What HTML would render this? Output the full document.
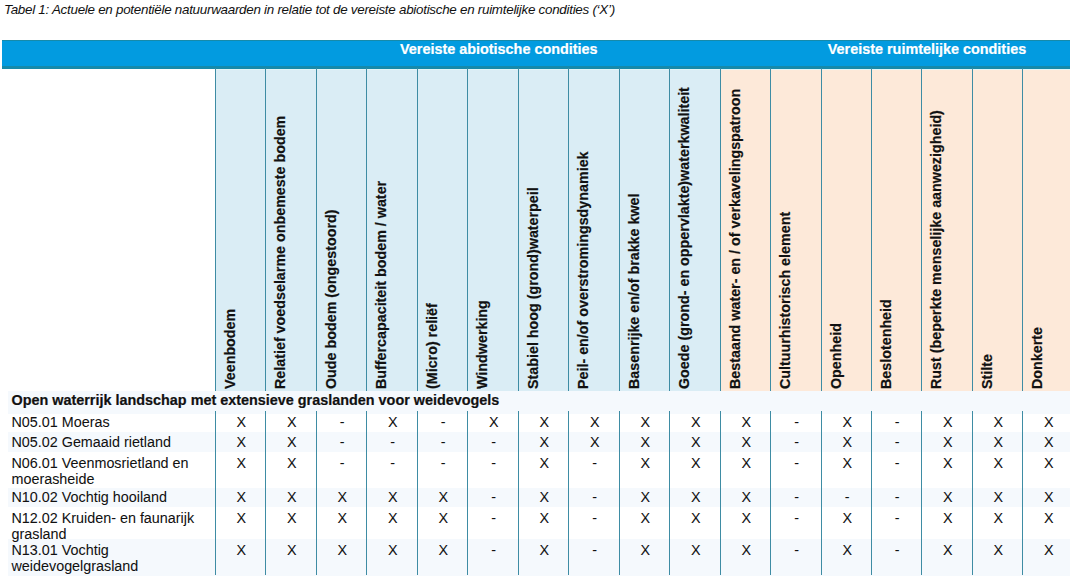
<!DOCTYPE html>
<html><head><meta charset="utf-8"><style>
html,body{margin:0;padding:0;background:#fff;}
body{width:1070px;height:578px;overflow:hidden;position:relative;font-family:"Liberation Sans",sans-serif;color:#111;}
.a{position:absolute;}
.t{position:absolute;white-space:nowrap;line-height:1;-webkit-text-stroke-width:0.05px;}
.b{-webkit-text-stroke-width:0.2px;}
.vh{position:absolute;white-space:nowrap;font-weight:bold;font-size:14.3px;line-height:1;transform-origin:0 0;transform:rotate(-90deg);-webkit-text-stroke-width:0.2px;}
.vl{position:absolute;width:1px;background:#3E8CA4;}
</style></head><body>

<div class="t" style="left:4px;top:3.20px;font-style:italic;font-size:13.4px;letter-spacing:-0.27px;-webkit-text-stroke:0;">Tabel 1: Actuele en potentiële natuurwaarden in relatie tot de vereiste abiotische en ruimtelijke condities (‘X’)</div>
<div class="a" style="left:2px;top:40px;width:1072px;height:28px;background:#029BE0;"></div>
<div class="a" style="left:2px;top:40px;width:1072px;height:1px;background:#168AAA;"></div>
<div class="a" style="left:2px;top:66px;width:1072px;height:2.7px;background:#168AAA;"></div>
<div class="t b" style="left:400.0px;top:42.07px;color:#fff;font-weight:bold;font-size:14.4px;">Vereiste abiotische condities</div>
<div class="t b" style="left:827.8px;top:42.07px;color:#fff;font-weight:bold;font-size:14.4px;">Vereiste ruimtelijke condities</div>
<div class="a" style="left:215px;top:68.7px;width:50px;height:322.3px;background:#DAEDF5;"></div>
<div class="a" style="left:265px;top:68.7px;width:51px;height:322.3px;background:#DAEDF5;"></div>
<div class="a" style="left:316px;top:68.7px;width:50px;height:322.3px;background:#DAEDF5;"></div>
<div class="a" style="left:366px;top:68.7px;width:51px;height:322.3px;background:#DAEDF5;"></div>
<div class="a" style="left:417px;top:68.7px;width:50px;height:322.3px;background:#DAEDF5;"></div>
<div class="a" style="left:467px;top:68.7px;width:51px;height:322.3px;background:#DAEDF5;"></div>
<div class="a" style="left:518px;top:68.7px;width:50px;height:322.3px;background:#DAEDF5;"></div>
<div class="a" style="left:568px;top:68.7px;width:51px;height:322.3px;background:#DAEDF5;"></div>
<div class="a" style="left:619px;top:68.7px;width:50px;height:322.3px;background:#DAEDF5;"></div>
<div class="a" style="left:669px;top:68.7px;width:51px;height:322.3px;background:#DAEDF5;"></div>
<div class="a" style="left:720px;top:68.7px;width:50px;height:322.3px;background:#FDE9D9;"></div>
<div class="a" style="left:770px;top:68.7px;width:51px;height:322.3px;background:#FDE9D9;"></div>
<div class="a" style="left:821px;top:68.7px;width:50px;height:322.3px;background:#FDE9D9;"></div>
<div class="a" style="left:871px;top:68.7px;width:50px;height:322.3px;background:#FDE9D9;"></div>
<div class="a" style="left:921px;top:68.7px;width:51px;height:322.3px;background:#FDE9D9;"></div>
<div class="a" style="left:972px;top:68.7px;width:50px;height:322.3px;background:#FDE9D9;"></div>
<div class="a" style="left:1022px;top:68.7px;width:51px;height:322.3px;background:#FDE9D9;"></div>
<div class="a" style="left:215px;top:68.7px;width:858px;height:1.5px;background:#E2F6F8;"></div>
<div class="vl" style="left:215px;top:67.7px;height:323.3px;"></div>
<div class="vl" style="left:265px;top:67.7px;height:323.3px;"></div>
<div class="vl" style="left:316px;top:67.7px;height:323.3px;"></div>
<div class="vl" style="left:366px;top:67.7px;height:323.3px;"></div>
<div class="vl" style="left:417px;top:67.7px;height:323.3px;"></div>
<div class="vl" style="left:467px;top:67.7px;height:323.3px;"></div>
<div class="vl" style="left:518px;top:67.7px;height:323.3px;"></div>
<div class="vl" style="left:568px;top:67.7px;height:323.3px;"></div>
<div class="vl" style="left:619px;top:67.7px;height:323.3px;"></div>
<div class="vl" style="left:669px;top:67.7px;height:323.3px;"></div>
<div class="vl" style="left:720px;top:67.7px;height:323.3px;"></div>
<div class="vl" style="left:770px;top:67.7px;height:323.3px;"></div>
<div class="vl" style="left:821px;top:67.7px;height:323.3px;"></div>
<div class="vl" style="left:871px;top:67.7px;height:323.3px;"></div>
<div class="vl" style="left:921px;top:67.7px;height:323.3px;"></div>
<div class="vl" style="left:972px;top:67.7px;height:323.3px;"></div>
<div class="vl" style="left:1022px;top:67.7px;height:323.3px;"></div>
<div class="vl" style="left:1073px;top:67.7px;height:323.3px;"></div>
<div class="vh" style="left:222.78px;top:389.20px;">Veenbodem</div>
<div class="vh" style="left:272.78px;top:389.20px;">Relatief voedselarme onbemeste bodem</div>
<div class="vh" style="left:323.78px;top:389.20px;">Oude bodem (ongestoord)</div>
<div class="vh" style="left:373.78px;top:389.20px;">Buffercapaciteit bodem / water</div>
<div class="vh" style="left:424.78px;top:389.20px;">(Micro) reliëf</div>
<div class="vh" style="left:474.78px;top:389.20px;">Windwerking</div>
<div class="vh" style="left:525.78px;top:389.20px;">Stabiel hoog (grond)waterpeil</div>
<div class="vh" style="left:575.78px;top:389.20px;">Peil- en/of overstromingsdynamiek</div>
<div class="vh" style="left:626.78px;top:389.20px;">Basenrijke en/of brakke kwel</div>
<div class="vh" style="left:676.78px;top:389.20px;">Goede (grond- en oppervlakte)waterkwaliteit</div>
<div class="vh" style="left:727.78px;top:389.20px;">Bestaand water- en / of verkavelingspatroon</div>
<div class="vh" style="left:777.78px;top:389.20px;">Cultuurhistorisch element</div>
<div class="vh" style="left:828.78px;top:389.20px;">Openheid</div>
<div class="vh" style="left:878.78px;top:389.20px;">Beslotenheid</div>
<div class="vh" style="left:928.78px;top:389.20px;">Rust (beperkte menselijke aanwezigheid)</div>
<div class="vh" style="left:979.78px;top:389.20px;">Stilte</div>
<div class="vh" style="left:1029.78px;top:389.20px;">Donkerte</div>
<div class="a" style="left:8px;top:391px;width:1066px;height:23.0px;background:#F5F9FD;"></div>
<div class="a" style="left:8px;top:432.0px;width:1066px;height:20.0px;background:#F5F9FD;"></div>
<div class="a" style="left:8px;top:487.5px;width:1066px;height:19.5px;background:#F5F9FD;"></div>
<div class="a" style="left:8px;top:539.0px;width:1066px;height:36.5px;background:#F5F9FD;"></div>
<div class="t b" style="left:11.5px;top:392.67px;font-weight:bold;font-size:14.4px;">Open waterrijk landschap met extensieve graslanden voor weidevogels</div>
<div class="t" style="left:11.5px;top:414.91px;font-size:14.35px;">N05.01 Moeras</div>
<div class="t" style="left:221.20px;top:414.91px;width:40px;text-align:center;font-size:14.35px;">X</div>
<div class="t" style="left:271.70px;top:414.91px;width:40px;text-align:center;font-size:14.35px;">X</div>
<div class="t" style="left:322.20px;top:414.91px;width:40px;text-align:center;font-size:14.35px;">-</div>
<div class="t" style="left:372.70px;top:414.91px;width:40px;text-align:center;font-size:14.35px;">X</div>
<div class="t" style="left:423.20px;top:414.91px;width:40px;text-align:center;font-size:14.35px;">-</div>
<div class="t" style="left:473.70px;top:414.91px;width:40px;text-align:center;font-size:14.35px;">X</div>
<div class="t" style="left:524.20px;top:414.91px;width:40px;text-align:center;font-size:14.35px;">X</div>
<div class="t" style="left:574.70px;top:414.91px;width:40px;text-align:center;font-size:14.35px;">X</div>
<div class="t" style="left:625.20px;top:414.91px;width:40px;text-align:center;font-size:14.35px;">X</div>
<div class="t" style="left:675.70px;top:414.91px;width:40px;text-align:center;font-size:14.35px;">X</div>
<div class="t" style="left:726.20px;top:414.91px;width:40px;text-align:center;font-size:14.35px;">X</div>
<div class="t" style="left:776.70px;top:414.91px;width:40px;text-align:center;font-size:14.35px;">-</div>
<div class="t" style="left:827.20px;top:414.91px;width:40px;text-align:center;font-size:14.35px;">X</div>
<div class="t" style="left:877.20px;top:414.91px;width:40px;text-align:center;font-size:14.35px;">-</div>
<div class="t" style="left:927.70px;top:414.91px;width:40px;text-align:center;font-size:14.35px;">X</div>
<div class="t" style="left:978.20px;top:414.91px;width:40px;text-align:center;font-size:14.35px;">X</div>
<div class="t" style="left:1028.70px;top:414.91px;width:40px;text-align:center;font-size:14.35px;">X</div>
<div class="t" style="left:11.5px;top:435.11px;font-size:14.35px;">N05.02 Gemaaid rietland</div>
<div class="t" style="left:221.20px;top:435.11px;width:40px;text-align:center;font-size:14.35px;">X</div>
<div class="t" style="left:271.70px;top:435.11px;width:40px;text-align:center;font-size:14.35px;">X</div>
<div class="t" style="left:322.20px;top:435.11px;width:40px;text-align:center;font-size:14.35px;">-</div>
<div class="t" style="left:372.70px;top:435.11px;width:40px;text-align:center;font-size:14.35px;">-</div>
<div class="t" style="left:423.20px;top:435.11px;width:40px;text-align:center;font-size:14.35px;">-</div>
<div class="t" style="left:473.70px;top:435.11px;width:40px;text-align:center;font-size:14.35px;">-</div>
<div class="t" style="left:524.20px;top:435.11px;width:40px;text-align:center;font-size:14.35px;">X</div>
<div class="t" style="left:574.70px;top:435.11px;width:40px;text-align:center;font-size:14.35px;">X</div>
<div class="t" style="left:625.20px;top:435.11px;width:40px;text-align:center;font-size:14.35px;">X</div>
<div class="t" style="left:675.70px;top:435.11px;width:40px;text-align:center;font-size:14.35px;">X</div>
<div class="t" style="left:726.20px;top:435.11px;width:40px;text-align:center;font-size:14.35px;">X</div>
<div class="t" style="left:776.70px;top:435.11px;width:40px;text-align:center;font-size:14.35px;">-</div>
<div class="t" style="left:827.20px;top:435.11px;width:40px;text-align:center;font-size:14.35px;">X</div>
<div class="t" style="left:877.20px;top:435.11px;width:40px;text-align:center;font-size:14.35px;">-</div>
<div class="t" style="left:927.70px;top:435.11px;width:40px;text-align:center;font-size:14.35px;">X</div>
<div class="t" style="left:978.20px;top:435.11px;width:40px;text-align:center;font-size:14.35px;">X</div>
<div class="t" style="left:1028.70px;top:435.11px;width:40px;text-align:center;font-size:14.35px;">X</div>
<div class="t" style="left:11.5px;top:456.21px;font-size:14.35px;">N06.01 Veenmosrietland en</div>
<div class="t" style="left:11.5px;top:472.21px;font-size:14.35px;">moerasheide</div>
<div class="t" style="left:221.20px;top:456.21px;width:40px;text-align:center;font-size:14.35px;">X</div>
<div class="t" style="left:271.70px;top:456.21px;width:40px;text-align:center;font-size:14.35px;">X</div>
<div class="t" style="left:322.20px;top:456.21px;width:40px;text-align:center;font-size:14.35px;">-</div>
<div class="t" style="left:372.70px;top:456.21px;width:40px;text-align:center;font-size:14.35px;">-</div>
<div class="t" style="left:423.20px;top:456.21px;width:40px;text-align:center;font-size:14.35px;">-</div>
<div class="t" style="left:473.70px;top:456.21px;width:40px;text-align:center;font-size:14.35px;">-</div>
<div class="t" style="left:524.20px;top:456.21px;width:40px;text-align:center;font-size:14.35px;">X</div>
<div class="t" style="left:574.70px;top:456.21px;width:40px;text-align:center;font-size:14.35px;">-</div>
<div class="t" style="left:625.20px;top:456.21px;width:40px;text-align:center;font-size:14.35px;">X</div>
<div class="t" style="left:675.70px;top:456.21px;width:40px;text-align:center;font-size:14.35px;">X</div>
<div class="t" style="left:726.20px;top:456.21px;width:40px;text-align:center;font-size:14.35px;">X</div>
<div class="t" style="left:776.70px;top:456.21px;width:40px;text-align:center;font-size:14.35px;">-</div>
<div class="t" style="left:827.20px;top:456.21px;width:40px;text-align:center;font-size:14.35px;">X</div>
<div class="t" style="left:877.20px;top:456.21px;width:40px;text-align:center;font-size:14.35px;">-</div>
<div class="t" style="left:927.70px;top:456.21px;width:40px;text-align:center;font-size:14.35px;">X</div>
<div class="t" style="left:978.20px;top:456.21px;width:40px;text-align:center;font-size:14.35px;">X</div>
<div class="t" style="left:1028.70px;top:456.21px;width:40px;text-align:center;font-size:14.35px;">X</div>
<div class="t" style="left:11.5px;top:489.91px;font-size:14.35px;">N10.02 Vochtig hooiland</div>
<div class="t" style="left:221.20px;top:489.91px;width:40px;text-align:center;font-size:14.35px;">X</div>
<div class="t" style="left:271.70px;top:489.91px;width:40px;text-align:center;font-size:14.35px;">X</div>
<div class="t" style="left:322.20px;top:489.91px;width:40px;text-align:center;font-size:14.35px;">X</div>
<div class="t" style="left:372.70px;top:489.91px;width:40px;text-align:center;font-size:14.35px;">X</div>
<div class="t" style="left:423.20px;top:489.91px;width:40px;text-align:center;font-size:14.35px;">X</div>
<div class="t" style="left:473.70px;top:489.91px;width:40px;text-align:center;font-size:14.35px;">-</div>
<div class="t" style="left:524.20px;top:489.91px;width:40px;text-align:center;font-size:14.35px;">X</div>
<div class="t" style="left:574.70px;top:489.91px;width:40px;text-align:center;font-size:14.35px;">-</div>
<div class="t" style="left:625.20px;top:489.91px;width:40px;text-align:center;font-size:14.35px;">X</div>
<div class="t" style="left:675.70px;top:489.91px;width:40px;text-align:center;font-size:14.35px;">X</div>
<div class="t" style="left:726.20px;top:489.91px;width:40px;text-align:center;font-size:14.35px;">X</div>
<div class="t" style="left:776.70px;top:489.91px;width:40px;text-align:center;font-size:14.35px;">-</div>
<div class="t" style="left:827.20px;top:489.91px;width:40px;text-align:center;font-size:14.35px;">-</div>
<div class="t" style="left:877.20px;top:489.91px;width:40px;text-align:center;font-size:14.35px;">-</div>
<div class="t" style="left:927.70px;top:489.91px;width:40px;text-align:center;font-size:14.35px;">X</div>
<div class="t" style="left:978.20px;top:489.91px;width:40px;text-align:center;font-size:14.35px;">X</div>
<div class="t" style="left:1028.70px;top:489.91px;width:40px;text-align:center;font-size:14.35px;">X</div>
<div class="t" style="left:11.5px;top:510.51px;font-size:14.35px;">N12.02 Kruiden- en faunarijk</div>
<div class="t" style="left:11.5px;top:526.51px;font-size:14.35px;">grasland</div>
<div class="t" style="left:221.20px;top:510.51px;width:40px;text-align:center;font-size:14.35px;">X</div>
<div class="t" style="left:271.70px;top:510.51px;width:40px;text-align:center;font-size:14.35px;">X</div>
<div class="t" style="left:322.20px;top:510.51px;width:40px;text-align:center;font-size:14.35px;">X</div>
<div class="t" style="left:372.70px;top:510.51px;width:40px;text-align:center;font-size:14.35px;">X</div>
<div class="t" style="left:423.20px;top:510.51px;width:40px;text-align:center;font-size:14.35px;">X</div>
<div class="t" style="left:473.70px;top:510.51px;width:40px;text-align:center;font-size:14.35px;">-</div>
<div class="t" style="left:524.20px;top:510.51px;width:40px;text-align:center;font-size:14.35px;">X</div>
<div class="t" style="left:574.70px;top:510.51px;width:40px;text-align:center;font-size:14.35px;">-</div>
<div class="t" style="left:625.20px;top:510.51px;width:40px;text-align:center;font-size:14.35px;">X</div>
<div class="t" style="left:675.70px;top:510.51px;width:40px;text-align:center;font-size:14.35px;">X</div>
<div class="t" style="left:726.20px;top:510.51px;width:40px;text-align:center;font-size:14.35px;">X</div>
<div class="t" style="left:776.70px;top:510.51px;width:40px;text-align:center;font-size:14.35px;">-</div>
<div class="t" style="left:827.20px;top:510.51px;width:40px;text-align:center;font-size:14.35px;">X</div>
<div class="t" style="left:877.20px;top:510.51px;width:40px;text-align:center;font-size:14.35px;">-</div>
<div class="t" style="left:927.70px;top:510.51px;width:40px;text-align:center;font-size:14.35px;">X</div>
<div class="t" style="left:978.20px;top:510.51px;width:40px;text-align:center;font-size:14.35px;">X</div>
<div class="t" style="left:1028.70px;top:510.51px;width:40px;text-align:center;font-size:14.35px;">X</div>
<div class="t" style="left:11.5px;top:543.01px;font-size:14.35px;">N13.01 Vochtig</div>
<div class="t" style="left:11.5px;top:559.01px;font-size:14.35px;">weidevogelgrasland</div>
<div class="t" style="left:221.20px;top:543.01px;width:40px;text-align:center;font-size:14.35px;">X</div>
<div class="t" style="left:271.70px;top:543.01px;width:40px;text-align:center;font-size:14.35px;">X</div>
<div class="t" style="left:322.20px;top:543.01px;width:40px;text-align:center;font-size:14.35px;">X</div>
<div class="t" style="left:372.70px;top:543.01px;width:40px;text-align:center;font-size:14.35px;">X</div>
<div class="t" style="left:423.20px;top:543.01px;width:40px;text-align:center;font-size:14.35px;">X</div>
<div class="t" style="left:473.70px;top:543.01px;width:40px;text-align:center;font-size:14.35px;">-</div>
<div class="t" style="left:524.20px;top:543.01px;width:40px;text-align:center;font-size:14.35px;">X</div>
<div class="t" style="left:574.70px;top:543.01px;width:40px;text-align:center;font-size:14.35px;">-</div>
<div class="t" style="left:625.20px;top:543.01px;width:40px;text-align:center;font-size:14.35px;">X</div>
<div class="t" style="left:675.70px;top:543.01px;width:40px;text-align:center;font-size:14.35px;">X</div>
<div class="t" style="left:726.20px;top:543.01px;width:40px;text-align:center;font-size:14.35px;">X</div>
<div class="t" style="left:776.70px;top:543.01px;width:40px;text-align:center;font-size:14.35px;">-</div>
<div class="t" style="left:827.20px;top:543.01px;width:40px;text-align:center;font-size:14.35px;">X</div>
<div class="t" style="left:877.20px;top:543.01px;width:40px;text-align:center;font-size:14.35px;">-</div>
<div class="t" style="left:927.70px;top:543.01px;width:40px;text-align:center;font-size:14.35px;">X</div>
<div class="t" style="left:978.20px;top:543.01px;width:40px;text-align:center;font-size:14.35px;">X</div>
<div class="t" style="left:1028.70px;top:543.01px;width:40px;text-align:center;font-size:14.35px;">X</div>
<div class="vl" style="left:215px;top:411px;height:164px;"></div>
<div class="vl" style="left:265px;top:411px;height:164px;"></div>
<div class="vl" style="left:316px;top:411px;height:164px;"></div>
<div class="vl" style="left:366px;top:411px;height:164px;"></div>
<div class="vl" style="left:417px;top:411px;height:164px;"></div>
<div class="vl" style="left:467px;top:411px;height:164px;"></div>
<div class="vl" style="left:518px;top:411px;height:164px;"></div>
<div class="vl" style="left:568px;top:411px;height:164px;"></div>
<div class="vl" style="left:619px;top:411px;height:164px;"></div>
<div class="vl" style="left:669px;top:411px;height:164px;"></div>
<div class="vl" style="left:720px;top:411px;height:164px;"></div>
<div class="vl" style="left:770px;top:411px;height:164px;"></div>
<div class="vl" style="left:821px;top:411px;height:164px;"></div>
<div class="vl" style="left:871px;top:411px;height:164px;"></div>
<div class="vl" style="left:921px;top:411px;height:164px;"></div>
<div class="vl" style="left:972px;top:411px;height:164px;"></div>
<div class="vl" style="left:1022px;top:411px;height:164px;"></div>
<div class="vl" style="left:1073px;top:411px;height:164px;"></div>
</body></html>
